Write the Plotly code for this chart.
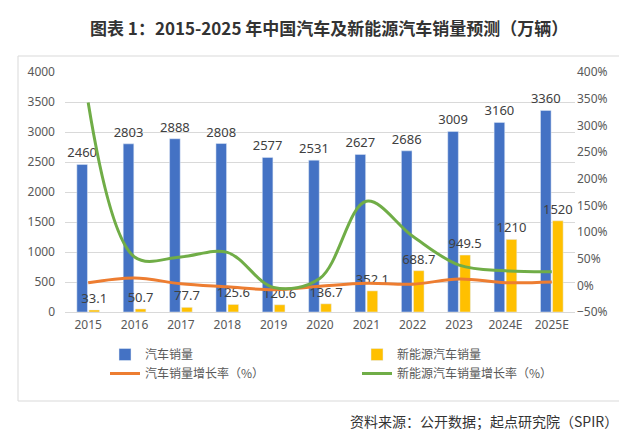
import plotly.graph_objects as go

categories = ["2015", "2016", "2017", "2018", "2019", "2020", "2021", "2022", "2023", "2024E", "2025E"]
car_sales = [2460, 2803, 2888, 2808, 2577, 2531, 2627, 2686, 3009, 3160, 3360]
nev_sales = [33.1, 50.7, 77.7, 125.6, 120.6, 136.7, 352.1, 688.7, 949.5, 1210, 1520]
car_growth = [4.7, 13.7, 3.0, -2.8, -8.2, -1.8, 3.8, 2.1, 12.0, 5.0, 6.3]
nev_growth = [343.0, 53.2, 53.3, 61.7, -4.0, 13.4, 157.6, 92.0, 37.9, 27.4, 25.6]

title_text = "图表 1：2015-2025 年中国汽车及新能源汽车销量预测（万辆）"
source_text = "资料来源：公开数据；起点研究院（SPIR）"

CJK = "Noto Sans CJK SC"
NUM = "Noto Sans, Noto Sans CJK SC"

fig = go.Figure()
fig.add_trace(go.Bar(
    x=categories, y=car_sales, name="汽车销量",
    marker_color="#4472C4",
    text=[str(v) for v in car_sales], textposition="outside",
    textfont=dict(family=NUM, size=13, color="#404040"),
    constraintext="none", textangle=0, cliponaxis=False,
))
fig.add_trace(go.Bar(
    x=categories, y=nev_sales, name="新能源汽车销量",
    marker_color="#FFC000",
    text=[f"{v:g}" for v in nev_sales], textposition="outside",
    textfont=dict(family=NUM, size=13, color="#404040"),
    constraintext="none", textangle=0, cliponaxis=False,
))
fig.add_trace(go.Scatter(
    x=categories, y=car_growth, name="汽车销量增长率（%）", yaxis="y2",
    mode="lines", line=dict(color="#ED7D31", width=3, shape="spline", smoothing=1),
))
fig.add_trace(go.Scatter(
    x=categories, y=nev_growth, name="新能源汽车销量增长率（%）", yaxis="y2",
    mode="lines", line=dict(color="#70AD47", width=3, shape="spline", smoothing=1),
))

W, H = 627, 434
L, R, T, B = 57, 60, 64, 130
pw, ph = W - L - R, H - T - B

def px(x):
    return (x - L) / pw

def py(y):
    return (H - B - y) / ph

fig.update_layout(
    width=W, height=H,
    margin=dict(l=L, r=R, t=T, b=B, autoexpand=False),
    paper_bgcolor="white", plot_bgcolor="white",
    barmode="group", bargap=0.48, bargroupgap=0.12,
    font=dict(family=NUM, size=12, color="#595959"),
    xaxis=dict(
        type="category", showgrid=False, showline=True, linecolor="#d9d9d9", linewidth=1,
        ticks="", tickfont=dict(family=NUM, size=12, color="#595959"),
        ticklabelstandoff=2,
    ),
    yaxis=dict(
        range=[0, 4000], dtick=500, showgrid=True, gridcolor="#d9d9d9", gridwidth=1,
        zeroline=False, showline=False, ticks="",
        tickfont=dict(family=NUM, size=12, color="#595959"), ticklabelstandoff=9,
    ),
    yaxis2=dict(
        overlaying="y", side="right", range=[-50, 400], dtick=50, ticksuffix="%",
        showgrid=False, zeroline=False, showline=False, ticks="",
        tickfont=dict(family=NUM, size=12, color="#595959"), ticklabelstandoff=1,
    ),
    legend=dict(
        orientation="h", x=px(97), y=py(332), xanchor="left", yanchor="top",
        entrywidth=207, entrywidthmode="pixels", itemwidth=30,
        font=dict(family=CJK, size=12, color="#595959"),
        bgcolor="rgba(0,0,0,0)", tracegroupgap=0,
    ),
    showlegend=True,
)

fig.add_shape(type="rect", xref="paper", yref="paper",
              x0=px(10), x1=px(617), y0=py(393), y1=py(48),
              line=dict(color="#d9d9d9", width=1), fillcolor="rgba(0,0,0,0)", layer="below")

fig.add_annotation(text=f"<b>{title_text}</b>", xref="paper", yref="paper",
                   x=px(321), y=py(19), xanchor="center", yanchor="middle", showarrow=False,
                   font=dict(family=CJK, size=17, color="#333333"))
fig.add_annotation(text=source_text, xref="paper", yref="paper",
                   x=px(612), y=py(413), xanchor="right", yanchor="middle", showarrow=False,
                   font=dict(family=CJK, size=14, color="#333333"))

fig.write_html("out.html")
